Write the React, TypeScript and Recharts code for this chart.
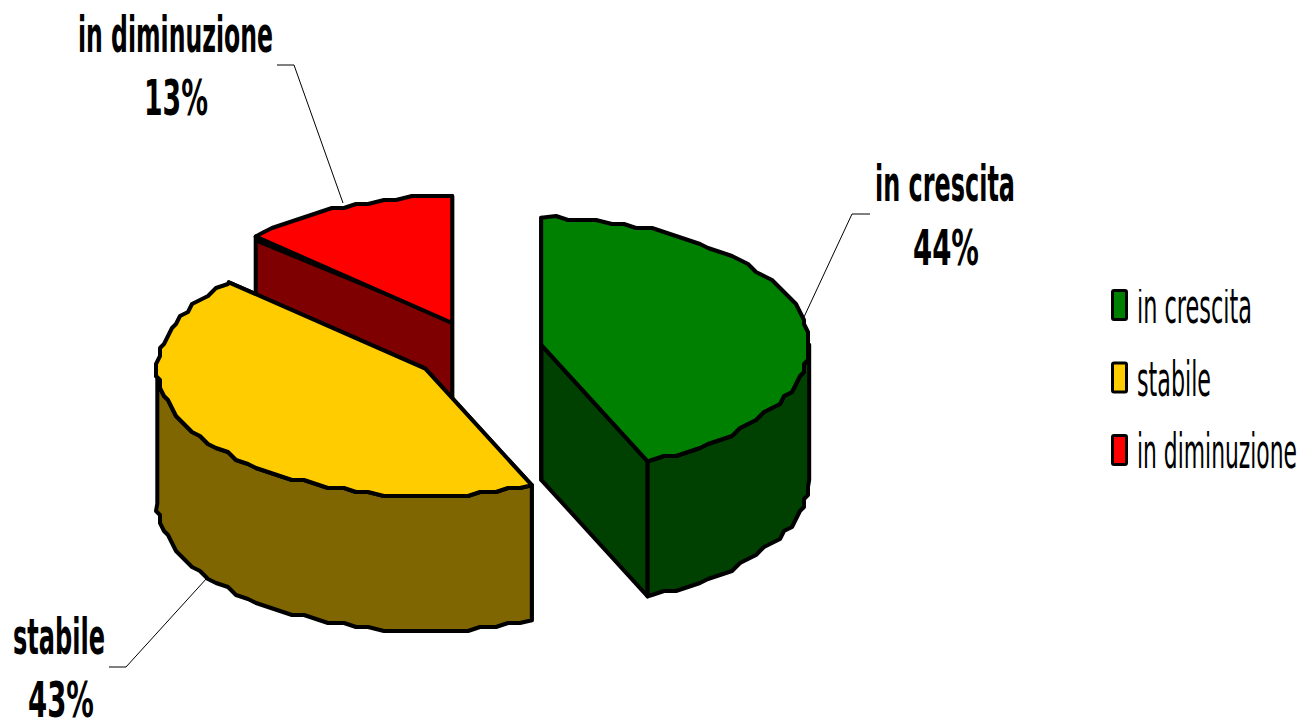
import { Legend, Pie, PieChart } from 'recharts';

// drawn back to front: red has to sit behind the yellow slice
const categories = ['in diminuzione', 'in crescita', 'stabile'];
const shares = [13.1, 43.5, 43.4]; // labels show these rounded
const sliceColors = ['#FF0000', '#008000', '#FFCC00'];
const legendOrder = ['in crescita', 'stabile', 'in diminuzione'];

const chartData = categories.map((name, i) => ({ name, value: shares[i], fill: sliceColors[i] }));

const FONT = '"DejaVu Sans", sans-serif';
const SQUASH = 127 / 268; // ellipse height / width of the tilted disc
const DEPTH = 135;
const EXPLODE = 64.5;
const GRID = 4; // the source picture is a blown up low res bitmap, edges come out stepped
const ARC_STEP = 3;

function halfTone(hex: string) {
  const n = parseInt(hex.slice(1), 16);
  const part = (s: number) => (((n >> s) & 255) >> 1).toString(16).padStart(2, '0');
  return `#${part(16)}${part(8)}${part(0)}`;
}

function Slice3D(props: any) {
  const { cx, cy, outerRadius, startAngle, endAngle, fill } = props;
  const from = 90 - startAngle; // clockwise from 12 o'clock
  const to = 90 - endAngle;
  const mid = ((from + to) / 2) * (Math.PI / 180);
  const ox = cx + EXPLODE * Math.sin(mid);
  const oy = cy - EXPLODE * SQUASH * Math.cos(mid);

  const rim = (deg: number) => {
    const a = (deg * Math.PI) / 180;
    return [ox + outerRadius * Math.sin(a), oy - outerRadius * SQUASH * Math.cos(a)];
  };
  // same angles for top face and wall so the stepped edges line up
  const rimPoints = (a: number, b: number) => {
    const pts: number[][] = [rim(a)];
    for (let d = Math.ceil(a / ARC_STEP + 0.01) * ARC_STEP; d < b; d += ARC_STEP) {
      const [x, y] = rim(d);
      pts.push([Math.round(x / GRID) * GRID, Math.round(y / GRID) * GRID]);
    }
    pts.push(rim(b));
    return pts;
  };
  const toPath = (pts: number[][]) => pts.map(([x, y], i) => `${i ? 'L' : 'M'}${x.toFixed(1)} ${y.toFixed(1)}`).join(' ') + ' Z';
  const drop = (pts: number[][]) => pts.map(([x, y]) => [x, y + DEPTH]);

  const dark = halfTone(fill);
  const line = { stroke: '#000', strokeWidth: 4, strokeLinejoin: 'round' as const };
  const center = [ox, oy];
  const startRim = rim(from);
  const wallA = [center, startRim, ...drop([startRim, center])];
  const wallB = [center, rim(to), ...drop([rim(to), center])];
  // black wedge under the cut edge, the wall starts a little lower than the rim out there
  const wedge = [center, startRim, [startRim[0], startRim[1] + 6]];
  const a = Math.max(from, 90);
  const b = Math.min(to, 270);
  const outer = a < b ? rimPoints(a, b) : null;

  return (
    <g>
      <path d={toPath(wallB)} fill={dark} {...line} />
      <path d={toPath(wallA)} fill={dark} {...line} />
      <path d={toPath(wedge)} fill="#000" />
      {outer && <path d={toPath([...outer, ...drop(outer).reverse()])} fill={dark} {...line} />}
      <path d={toPath([center, ...rimPoints(from, to)])} fill={fill} {...line} />
    </g>
  );
}

// reference text is squeezed sideways, so draw small and stretch upward
function TallText({ x, y, w, size, bold, children }: any) {
  return (
    <text
      transform={`translate(${x} ${y}) scale(1 2)`}
      fontFamily={FONT}
      fontWeight={bold ? 700 : 400}
      fontSize={size / 2}
      fill="#000"
      textLength={w}
      lengthAdjust="spacingAndGlyphs"
    >
      {children}
    </text>
  );
}

const calloutLayout: Record<string, any> = {
  'in crescita': {
    leader: '804,317 852,214 870,214',
    title: { x: 875, y: 201, w: 140 },
    pct: { x: 913, y: 265, w: 66 },
  },
  stabile: {
    leader: '207,578 126,667 109,667',
    title: { x: 13, y: 654, w: 92 },
    pct: { x: 28, y: 717, w: 66 },
  },
  'in diminuzione': {
    leader: '343,203 294,65 277,65',
    title: { x: 78, y: 52, w: 195 },
    pct: { x: 144, y: 115, w: 64 },
  },
};

function Callout(props: any) {
  const { name, value } = props;
  const c = calloutLayout[name];
  return (
    <g>
      <polyline points={c.leader} fill="none" stroke="#000" strokeWidth={1} />
      <TallText {...c.title} size={50} bold>{name}</TallText>
      <TallText {...c.pct} size={50} bold>{`${Math.round(value)}%`}</TallText>
    </g>
  );
}

const legendWidths: Record<string, number> = { 'in crescita': 115, stabile: 74, 'in diminuzione': 160 };

function LegendBox({ payload }: any) {
  const items = legendOrder.map((n) => (payload || []).find((p: any) => p.value === n)).filter(Boolean);
  return (
    <svg width={194} height={200} style={{ display: 'block' }}>
      {items.map((item: any, i: number) => (
        <g key={item.value} transform={`translate(0, ${i * 72.5})`}>
          <rect x={2.5} y={1.5} width={14} height={29} rx={1.5} fill={item.color} stroke="#000" strokeWidth={3} />
          <TallText x={27} y={34} w={legendWidths[item.value]} size={48}>{item.value}</TallText>
        </g>
      ))}
    </svg>
  );
}

export default function App() {
  return (
    <div style={{ position: 'absolute', left: 0, top: 0, width: 1304, height: 721, background: '#fff' }}>
      <PieChart width={1304} height={721} margin={{ top: 0, right: 0, bottom: 0, left: 0 }}>
        <Pie
          data={chartData}
          dataKey="value"
          nameKey="name"
          cx={478}
          cy={351}
          innerRadius={0}
          outerRadius={268}
          startAngle={137.16}
          endAngle={-222.84}
          shape={Slice3D}
          label={Callout}
          labelLine={false}
          isAnimationActive={false}
        />
        <Legend
          layout="vertical"
          align="right"
          verticalAlign="top"
          content={LegendBox}
          wrapperStyle={{ position: 'absolute', left: 1110, top: 289, width: 194, height: 200 }}
        />
      </PieChart>
    </div>
  );
}
